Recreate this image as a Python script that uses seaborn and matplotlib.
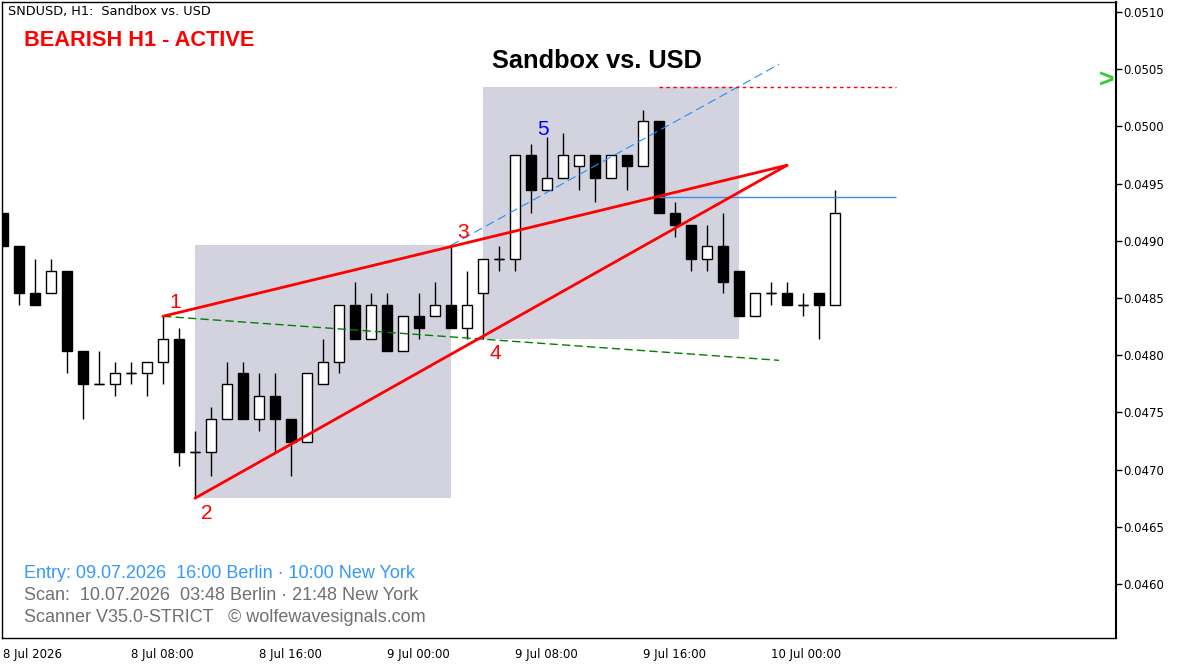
import numpy as np
import pandas as pd
import matplotlib
matplotlib.use("Agg")
import matplotlib.pyplot as plt
import seaborn as sns

# hourly candles, 8 Jul 2026 00:00 onwards
opens = [0.04924, 0.04895, 0.04854, 0.04854, 0.04874, 0.04804, 0.04775, 0.04775, 0.04784, 0.04784,
         0.04794, 0.04814, 0.04715, 0.04715, 0.04744, 0.04784, 0.04744, 0.04764, 0.04744, 0.04724,
         0.04775, 0.04794, 0.04844, 0.04814, 0.04844, 0.04804, 0.04834, 0.04834, 0.04844, 0.04824,
         0.04854, 0.04884, 0.04884, 0.04975, 0.04944, 0.04955, 0.04965, 0.04975, 0.04955, 0.04975,
         0.04965, 0.05005, 0.04924, 0.04914, 0.04884, 0.04895, 0.04874, 0.04834, 0.04854, 0.04854,
         0.04844, 0.04854, 0.04844]
highs = [0.04924, 0.04895, 0.04884, 0.04884, 0.04874, 0.04804, 0.04804, 0.04794, 0.04794, 0.04794,
         0.04834, 0.04824, 0.04734, 0.04755, 0.04794, 0.04794, 0.04784, 0.04784, 0.04744, 0.04784,
         0.04814, 0.04844, 0.04864, 0.04854, 0.04854, 0.04834, 0.04854, 0.04864, 0.04896, 0.04874,
         0.04884, 0.04895, 0.04975, 0.04985, 0.04991, 0.04994, 0.04975, 0.04975, 0.04975, 0.04975,
         0.05014, 0.05005, 0.04934, 0.04914, 0.04914, 0.04924, 0.04874, 0.04854, 0.04864, 0.04864,
         0.04854, 0.04854, 0.04944]
lows = [0.04895, 0.04844, 0.04844, 0.04854, 0.04784, 0.04744, 0.04775, 0.04764, 0.04775, 0.04764,
        0.04775, 0.04703, 0.04675, 0.04694, 0.04744, 0.04744, 0.04734, 0.04715, 0.04694, 0.04724,
        0.04775, 0.04784, 0.04814, 0.04814, 0.04804, 0.04804, 0.04814, 0.04834, 0.04824, 0.04814,
        0.04814, 0.04874, 0.04874, 0.04924, 0.04944, 0.04955, 0.04944, 0.04934, 0.04955, 0.04944,
        0.04965, 0.04924, 0.04903, 0.04874, 0.04874, 0.04854, 0.04834, 0.04834, 0.04844, 0.04844,
        0.04834, 0.04814, 0.04844]
closes = [0.04895, 0.04854, 0.04844, 0.04874, 0.04804, 0.04775, 0.04775, 0.04784, 0.04784, 0.04794,
          0.04814, 0.04715, 0.04715, 0.04744, 0.04775, 0.04744, 0.04764, 0.04744, 0.04724, 0.04784,
          0.04794, 0.04844, 0.04814, 0.04844, 0.04804, 0.04834, 0.04824, 0.04844, 0.04824, 0.04844,
          0.04884, 0.04884, 0.04975, 0.04944, 0.04955, 0.04975, 0.04975, 0.04955, 0.04975, 0.04965,
          0.05005, 0.04924, 0.04914, 0.04884, 0.04895, 0.04864, 0.04834, 0.04854, 0.04854, 0.04844,
          0.04844, 0.04844, 0.04924]

time_ticks = [0, 8, 16, 24, 32, 40, 48]
time_labels = ["8 Jul 2026", "8 Jul 08:00", "8 Jul 16:00", "9 Jul 00:00",
               "9 Jul 08:00", "9 Jul 16:00", "10 Jul 00:00"]
price_ticks = [0.0460, 0.0465, 0.0470, 0.0475, 0.0480, 0.0485, 0.0490, 0.0495, 0.0500, 0.0505, 0.0510]

# wolfe wave points 1-4 (bar index, price) and point 5 bar
wave_idx = [10, 12, 28, 30]
wave_px = [0.04834, 0.04675, 0.04896, 0.04814]
wave5_idx = 34
apex_idx, apex_px = 49, 0.04966
target_end_idx = 48.5

# zones (bar range, price range)
zone1 = (12, 28, 0.04675, 0.04896)
zone2 = (30, 46, 0.04814, 0.05034)
entry_level = 0.04938
tp_level = 0.05034
levels_span = (41, 55.8)

sns.set_theme(style="white")
plt.rcParams["font.family"] = ["DejaVu Sans"]

W, H = 1189, 668
fig = plt.figure(figsize=(W / 100, H / 100), dpi=100)
ax = fig.add_axes([2 / W, 30 / H, 1114 / W, 636 / H])

o = np.array(opens); c = np.array(closes); hi = np.array(highs); lo = np.array(lows)
x = np.arange(len(o))
up = c >= o
body_lo = np.minimum(o, c)
body_h = np.abs(c - o)
bw = 0.62

# shaded zones
for z in (zone1, zone2):
    ax.fill_between([z[0], z[1]], z[2], z[3], color="#d3d3e0", lw=0, zorder=0)

ax.vlines(x, lo, hi, color="black", lw=1, zorder=2)
ax.bar(x[up], body_h[up], bottom=body_lo[up], width=bw, color="white", edgecolor="black", lw=1, zorder=3)
ax.bar(x[~up], body_h[~up], bottom=body_lo[~up], width=bw, color="black", edgecolor="black", lw=1, zorder=3)
doji = body_h < 1e-7
ax.hlines(o[doji], x[doji] - bw / 2, x[doji] + bw / 2, color="black", lw=1, zorder=3)

# wedge lines 1->apex, 2->apex
p1 = (wave_idx[0], wave_px[0]); p2 = (wave_idx[1], wave_px[1])
p3 = (wave_idx[2], wave_px[2]); p4 = (wave_idx[3], wave_px[3])
wedge = pd.DataFrame({
    "bar": [p1[0], apex_idx, p2[0], apex_idx],
    "price": [p1[1], apex_px, p2[1], apex_px],
    "leg": ["a", "a", "b", "b"],
})
sns.lineplot(data=wedge, x="bar", y="price", units="leg", estimator=None, color="#ff0000",
             lw=2, ax=ax, zorder=5, sort=False)

# 1-4 target line
s14 = (p4[1] - p1[1]) / (p4[0] - p1[0])
ax.plot([p1[0], target_end_idx], [p1[1], p1[1] + s14 * (target_end_idx - p1[0])],
        color="#008000", lw=1, dashes=(6, 3), zorder=4)
# channel line through 3, parallel to 2-4
s24 = (p4[1] - p2[1]) / (p4[0] - p2[0])
ax.plot([p3[0], target_end_idx], [p3[1], p3[1] + s24 * (target_end_idx - p3[0])],
        color="#1e90ff", lw=0.8, dashes=(8, 4), zorder=4)

ax.hlines(entry_level, *levels_span, color="#3c8ce6", lw=1, zorder=4)
ax.plot(levels_span, [tp_level, tp_level], color="#ff0000", lw=1, dashes=(2.5, 2.5), zorder=4)

# point labels
lab_kw = dict(textcoords="offset pixels", fontsize=15, family="Liberation Sans",
              ha="center", va="center", zorder=6)
ax.annotate("1", p1, xytext=(12, 14), color="#ff0000", **lab_kw)
ax.annotate("2", p2, xytext=(12, -15), color="#ff0000", **lab_kw)
ax.annotate("3", p3, xytext=(12, 13), color="#ff0000", **lab_kw)
ax.annotate("4", p4, xytext=(12, -14), color="#ff0000", **lab_kw)
ax.annotate("5", (wave5_idx, highs[wave5_idx]), xytext=(-4, 7), color="#0000ff", **lab_kw)

# axes
ax.set_xlim(-0.0625, 69.56)
ax.set_ylim(0.045528, 0.051087)
ax.set_xlabel(""); ax.set_ylabel("")
ax.set_xticks(time_ticks)
ax.set_xticklabels(time_labels, ha="left")
ax.set_yticks(price_ticks)
ax.set_yticklabels([f"{v:.4f}" for v in price_ticks])
ax.yaxis.tick_right()
ax.tick_params(axis="both", direction="out", length=4, width=1, color="black",
               labelsize=8.5, labelcolor="black")
ax.tick_params(axis="x", pad=3)
ax.tick_params(axis="y", pad=1.5)
for sp in ax.spines.values():
    sp.set_visible(True)
    sp.set_color("black")
    sp.set_linewidth(1)
ax.spines["right"].set_linewidth(1.5)
ax.grid(False)

def ftext(px, py, s, **kw):
    fig.text(px / W, 1 - py / H, s, **kw)

ftext(8, 12, "SNDUSD, H1:  Sandbox vs. USD", fontsize=9.2, va="center", ha="left", color="black")
ftext(24, 41, "BEARISH H1 - ACTIVE", fontsize=15.7, fontweight="bold", family="Liberation Sans",
      color="#ff0000", va="center", ha="left")
ftext(597, 61, "Sandbox vs. USD", fontsize=18.3, fontweight="bold", family="Liberation Sans",
      color="black", va="center", ha="center")
ftext(1107, 81, ">", fontsize=19, fontweight="bold", family="Liberation Sans",
      color="#33cc33", va="center", ha="center")
ftext(24, 574, "Entry: 09.07.2026  16:00 Berlin \u00b7 10:00 New York", fontsize=13,
      family="Liberation Sans", color="#3399ff", va="center", ha="left")
ftext(24, 596, "Scan:  10.07.2026  03:48 Berlin \u00b7 21:48 New York", fontsize=13,
      family="Liberation Sans", color="#707070", va="center", ha="left")
ftext(24, 618, "Scanner V35.0-STRICT   \u00a9 wolfewavesignals.com", fontsize=13,
      family="Liberation Sans", color="#707070", va="center", ha="left")

fig.savefig("out.png", dpi=100)
plt.close(fig)
